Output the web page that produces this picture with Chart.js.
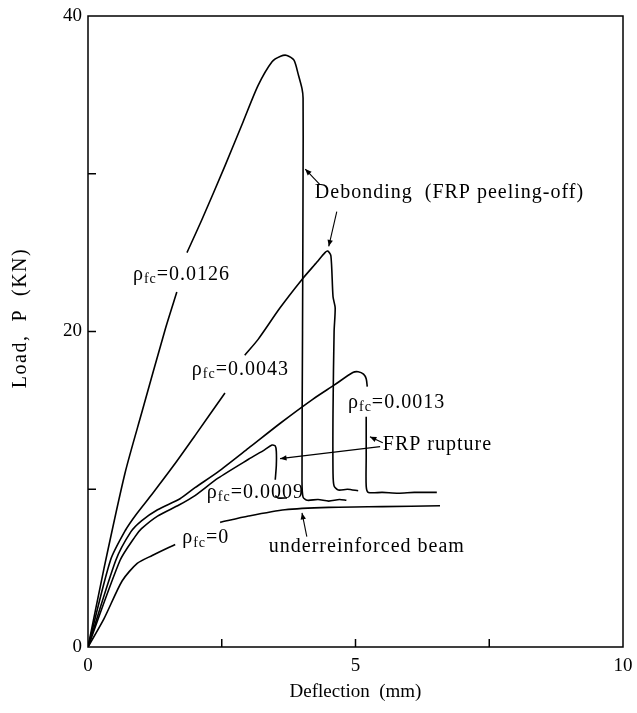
<!DOCTYPE html>
<html>
<head>
<meta charset="utf-8">
<script src="https://cdn.jsdelivr.net/npm/chart.js@4/dist/chart.umd.min.js"></script>
<style>
  html, body { margin: 0; padding: 0; background: #fff; }
  #wrap { width: 637px; height: 713px; }
</style>
</head>
<body>
<div id="wrap"><canvas id="c" width="637" height="713"></canvas></div>
<script>
// ---- data (deflection mm, load kN) ----
const rho0126 = [[0,0],[0.3,5.0],[0.69,11.0],[1.0,14.8],[1.44,20.1],[1.66,22.5],[1.7,null],[1.85,25.0],[2.13,27.1],[2.56,30.5],[2.9,33.3],[3.18,35.6],[3.44,37.1],[3.6,37.45],[3.72,37.5],[3.85,37.2],[3.93,36.3],[4.0,35.4],[4.02,34.8],[4.02,30],[4.01,20],[4.0,10.5],[4.02,9.5],[4.1,9.3],[4.3,9.35],[4.5,9.25],[4.7,9.35],[4.83,9.3]];
const rho0043 = [[0,0],[0.42,5.5],[0.7,7.4],[0.9,8.4],[1.2,9.7],[1.6,11.5],[2.0,13.4],[2.56,16.1],[2.7,null],[2.93,18.5],[3.18,19.5],[3.59,21.5],[4.0,23.3],[4.28,24.4],[4.43,25.0],[4.48,25.1],[4.54,24.8],[4.58,22.2],[4.62,21.5],[4.6,20],[4.58,15],[4.58,11],[4.6,10.2],[4.68,9.95],[4.85,10.0],[5.05,9.9]];
const rho0013 = [[0,0],[0.52,5.5],[0.8,7.3],[1.0,8.0],[1.3,8.7],[1.72,9.4],[2.0,10.1],[2.43,11.1],[3.0,12.6],[3.6,14.2],[4.2,15.7],[4.6,16.6],[4.95,17.4],[5.05,17.45],[5.15,17.3],[5.2,17.0],[5.22,16.5],[5.22,null],[5.2,14.6],[5.2,12],[5.2,10.2],[5.24,9.8],[5.5,9.8],[5.8,9.75],[6.1,9.8],[6.52,9.8]];
const rho0009 = [[0,0],[0.6,5.5],[0.88,7.0],[1.0,7.5],[1.3,8.3],[1.7,9.0],[2.0,9.6],[2.43,10.7],[3.0,11.9],[3.3,12.5],[3.44,12.8],[3.5,12.75],[3.52,12.4],[3.52,11.5],[3.5,10.6],[3.5,null],[3.5,9.6],[3.55,9.45],[3.72,9.45]];
const rho0000 = [[0,0],[0.3,1.8],[0.64,4.2],[0.92,5.3],[1.2,5.8],[1.63,6.5],[1.7,null],[2.47,7.9],[3.0,8.3],[3.68,8.7],[4.5,8.85],[5.5,8.9],[6.58,8.95]];

const seriesList = [rho0126, rho0043, rho0013, rho0009, rho0000];

const xTickLabels = {0:'0', 5:'5', 10:'10'};
const yTickLabels = {0:'0', 20:'20', 40:'40'};
const yTitle = 'Load,  P  (KN)';
const xTitle = 'Deflection  (mm)';

// annotations (data coordinates)
const rhoNotes = [
  {v:'0.0126', x:0.84, y:23.6},
  {v:'0.0043', x:1.94, y:17.6},
  {v:'0.0013', x:4.86, y:15.5},
  {v:'0.0009', x:2.22, y:9.8},
  {v:'0',      x:1.76, y:6.9}
];
const textNotes = [
  {t:'Debonding  (FRP peeling-off)', x:4.24, y:28.8},
  {t:'FRP rupture', x:5.51, y:12.8},
  {t:'underreinforced beam', x:3.38, y:6.35}
];
const arrowNotes = [
  {from:[4.34,29.3], to:[4.06,30.3]},
  {from:[4.65,27.6], to:[4.5,25.4]},
  {from:[5.51,12.95], to:[5.27,13.33]},
  {from:[5.46,12.7], to:[3.59,11.94]},
  {from:[4.09,7.0], to:[4.0,8.5]}
];

const FONT = '"Liberation Serif", "Times New Roman", serif';

const datasets = seriesList.map(s => ({
  data: s.map(p => ({x:p[0], y:p[1]})),
  borderColor:'#000', borderWidth:1.6, pointRadius:0, tension:0.25, fill:false, spanGaps:false
}));

const decor = {
  id:'decor',
  afterDatasetsDraw(chart){
    const ctx = chart.ctx, a = chart.chartArea;
    const xs = chart.scales.x, ys = chart.scales.y;
    ctx.save();
    ctx.strokeStyle = '#000';
    ctx.lineWidth = 1.5;
    ctx.strokeRect(a.left, a.top, a.right-a.left, a.bottom-a.top);
    // inward ticks
    [10,20,30].forEach(v=>{
      const y = ys.getPixelForValue(v);
      ctx.beginPath(); ctx.moveTo(a.left, y); ctx.lineTo(a.left+8, y); ctx.stroke();
    });
    [2.5,5,7.5].forEach(v=>{
      const x = xs.getPixelForValue(v);
      ctx.beginPath(); ctx.moveTo(x, a.bottom); ctx.lineTo(x, a.bottom-8); ctx.stroke();
    });
    ctx.fillStyle = '#000';
    ctx.textBaseline = 'middle';
    ctx.textAlign = 'left';
    ctx.letterSpacing = '1px';
    // rho labels
    rhoNotes.forEach(n=>{
      let x = xs.getPixelForValue(n.x), y = ys.getPixelForValue(n.y);
      ctx.font = '20px ' + FONT;
      ctx.fillText('\u03C1', x, y);
      x += ctx.measureText('\u03C1').width;
      ctx.font = '14px ' + FONT;
      ctx.fillText('fc', x, y+5);
      x += ctx.measureText('fc').width;
      ctx.font = '20px ' + FONT;
      ctx.fillText('=' + n.v, x, y);
    });
    ctx.font = '20px ' + FONT;
    textNotes.forEach(n=>{
      ctx.fillText(n.t, xs.getPixelForValue(n.x), ys.getPixelForValue(n.y));
    });
    // y-axis title
    ctx.save();
    ctx.letterSpacing = '1.5px';
    ctx.font = '20px ' + FONT;
    ctx.textAlign = 'center';
    ctx.translate(21, 318);
    ctx.rotate(-Math.PI/2);
    ctx.fillText(yTitle, 0, 0);
    ctx.restore();
    // arrows
    ctx.lineWidth = 1.1;
    arrowNotes.forEach(ar=>{
      const x1 = xs.getPixelForValue(ar.from[0]), y1 = ys.getPixelForValue(ar.from[1]);
      const x2 = xs.getPixelForValue(ar.to[0]), y2 = ys.getPixelForValue(ar.to[1]);
      ctx.beginPath(); ctx.moveTo(x1,y1); ctx.lineTo(x2,y2); ctx.stroke();
      const ang = Math.atan2(y2-y1, x2-x1), L = 7, w = 0.4;
      ctx.beginPath();
      ctx.moveTo(x2,y2);
      ctx.lineTo(x2 - L*Math.cos(ang-w), y2 - L*Math.sin(ang-w));
      ctx.lineTo(x2 - L*Math.cos(ang+w), y2 - L*Math.sin(ang+w));
      ctx.closePath(); ctx.fill();
    });
    ctx.restore();
  }
};

new Chart(document.getElementById('c'), {
  type:'line',
  data:{ datasets },
  options:{
    responsive:false,
    animation:false,
    devicePixelRatio:1,
    layout:{ padding:{ top:16, right:14, left:0, bottom:0 } },
    plugins:{ legend:{display:false}, tooltip:{enabled:false} },
    scales:{
      x:{
        type:'linear', min:0, max:10,
        afterFit(s){ s.height = 66; s.paddingLeft = 0; s.paddingRight = 0; },
        grid:{ display:false, drawTicks:false },
        border:{ display:false },
        ticks:{ stepSize:2.5, autoSkip:false, maxRotation:0, padding:8, color:'#000',
          font:{ family:FONT, size:19 },
          callback:(v)=> xTickLabels[v] !== undefined ? xTickLabels[v] : '' },
        title:{ display:true, text:xTitle, color:'#000',
          font:{ family:FONT, size:19 }, padding:{ top:0, bottom:10 } }
      },
      y:{
        type:'linear', min:0, max:40,
        afterFit(s){ s.width = 88; s.paddingTop = 0; s.paddingBottom = 0; },
        grid:{ display:false, drawTicks:false },
        border:{ display:false },
        ticks:{ stepSize:10, autoSkip:false, padding:6, color:'#000',
          font:{ family:FONT, size:19 },
          callback:(v)=> yTickLabels[v] !== undefined ? yTickLabels[v] : '' },
        title:{ display:false }
      }
    }
  },
  plugins:[decor]
});
</script>
</body>
</html>
